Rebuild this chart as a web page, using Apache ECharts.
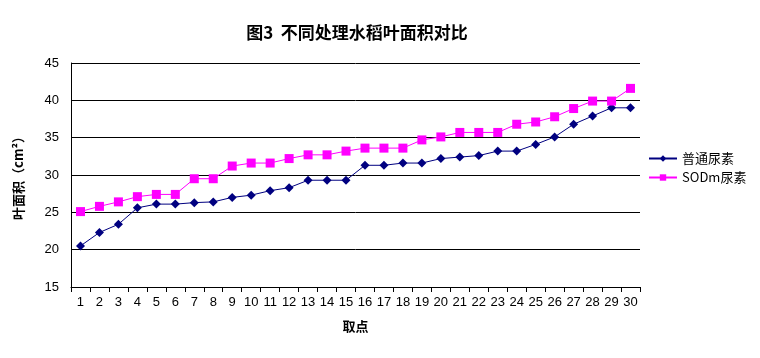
<!DOCTYPE html>
<html><head><meta charset="utf-8">
<script src="https://cdn.jsdelivr.net/npm/echarts@6/dist/echarts.min.js"></script>
<style>html,body{margin:0;padding:0;background:#fff}#c{width:760px;height:358px}</style>
</head><body><div id="c"></div>
<script>
var categories = ['1','2','3','4','5','6','7','8','9','10','11','12','13','14','15','16','17','18','19','20','21','22','23','24','25','26','27','28','29','30'];
var putong = [20.5,22.3,23.4,25.6,26.1,26.1,26.3,26.4,27.0,27.3,27.9,28.3,29.3,29.3,29.3,31.3,31.3,31.6,31.6,32.2,32.4,32.6,33.2,33.2,34.1,35.1,36.8,37.9,39.0,39.0];
var sodm = [25.1,25.8,26.4,27.1,27.4,27.4,29.5,29.5,31.2,31.6,31.6,32.2,32.7,32.7,33.2,33.6,33.6,33.6,34.7,35.1,35.7,35.7,35.7,36.8,37.1,37.8,38.9,39.9,39.9,41.6];
var seriesNames = ['普通尿素','SODm尿素'];
var titleText = '图3  不同处理水稻叶面积对比';
var xName = '取点';
var yName = '叶面积（cm²）';

var font = '"Noto Sans CJK SC", sans-serif';
var chart = echarts.init(document.getElementById('c'), null, {renderer:'canvas'});
chart.setOption({
  animation:false,
  backgroundColor:'#fff',
  title:{text:titleText,left:352,top:19,textAlign:'center',textStyle:{fontFamily:font,fontSize:17,fontWeight:'bold',color:'#000'}},
  grid:{left:71,right:120,top:63,bottom:71,containLabel:false},
  legend:{orient:'vertical',left:643,top:147,itemWidth:28,itemHeight:8,itemGap:6,
    textStyle:{fontFamily:font,fontSize:13,color:'#000'},data:seriesNames},
  xAxis:{type:'category',data:categories,boundaryGap:true,
    name:xName,nameLocation:'middle',nameGap:33,
    nameTextStyle:{fontFamily:font,fontSize:13,fontWeight:'bold',color:'#000'},
    axisLine:{lineStyle:{color:'#000',width:1}},
    axisTick:{show:true,alignWithLabel:false,length:5,lineStyle:{color:'#000'}},
    axisLabel:{fontFamily:'"Liberation Sans", sans-serif',fontSize:13,color:'#000',margin:9,interval:0},
    splitLine:{show:false}},
  yAxis:{type:'value',min:15,max:45,interval:5,
    name:yName,nameLocation:'middle',nameGap:46,nameRotate:90,
    nameTextStyle:{fontFamily:font,fontSize:13,fontWeight:'bold',color:'#000'},
    axisLine:{show:true,lineStyle:{color:'#000',width:1}},
    axisTick:{show:false},
    axisLabel:{fontFamily:'"Liberation Sans", sans-serif',fontSize:13,color:'#000',margin:12},
    splitLine:{show:true,lineStyle:{color:'#000',width:1}}},
  series:[
    {name:seriesNames[0],type:'line',data:putong,symbol:'diamond',symbolSize:9,
      lineStyle:{color:'#000080',width:1},itemStyle:{color:'#000080'}},
    {name:seriesNames[1],type:'line',data:sodm,symbol:'rect',symbolSize:9,
      lineStyle:{color:'#FF00FF',width:1},itemStyle:{color:'#FF00FF'}}
  ]
});
</script></body></html>
